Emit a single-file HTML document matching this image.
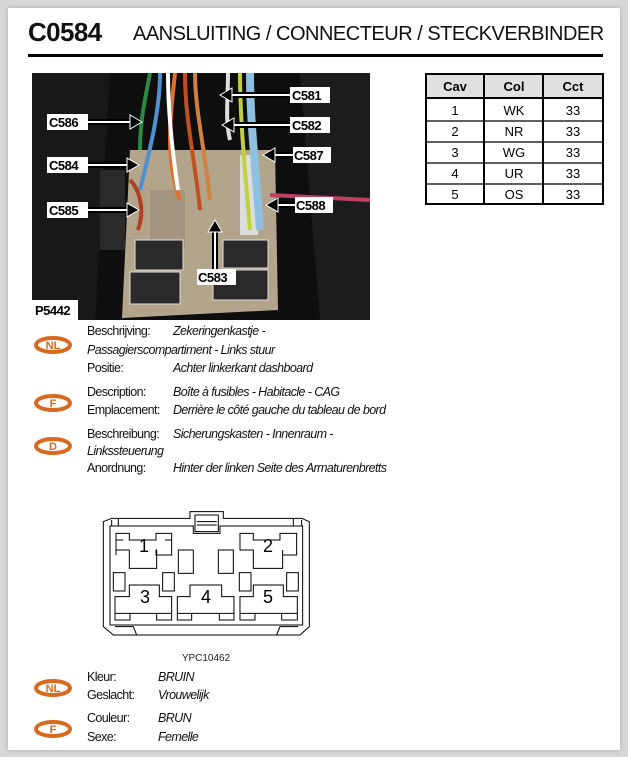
<!DOCTYPE html>
<html><head><meta charset="utf-8"><style>
body{margin:0;width:628px;height:757px;background:#d8d8d8;position:relative;overflow:hidden;font-family:"Liberation Sans",sans-serif}
.card{position:absolute;left:8px;top:8px;width:612px;height:742px;background:#fff;box-shadow:0 0 4px #aaa}
.a{position:absolute;white-space:nowrap;font-size:12.5px;color:#111;letter-spacing:-0.6px}
.i{font-style:italic}
</style></head><body>
<div class="card"></div>
<div class="a" style="left:28px;top:17px;font-size:26px;font-weight:bold;letter-spacing:-0.6px">C0584</div>
<div class="a" style="left:133px;top:23px;font-size:20px;letter-spacing:-0.5px">AANSLUITING / CONNECTEUR / STECKVERBINDER</div>
<div style="position:absolute;left:28px;top:54px;width:575px;height:3px;background:#000"></div>

<svg style="position:absolute;left:0;top:0" width="628" height="757">
<rect x="32" y="73" width="338" height="247" fill="#0e0e0e"/>
<path d="M32 73 L110 73 L95 320 L32 320Z" fill="#181818"/>
<path d="M300 73 L370 73 L370 320 L320 320Z" fill="#1c1c1c"/>
<rect x="100" y="170" width="25" height="80" fill="#2a2a2a"/>
<polygon points="130,150 275,150 278,310 122,318" fill="#b3a58c"/>
<rect x="150" y="190" width="35" height="60" fill="#a39580"/>
<rect x="135" y="240" width="48" height="30" fill="#2a2a2a" stroke="#ddd"/>
<rect x="130" y="272" width="50" height="32" fill="#2a2a2a" stroke="#ddd"/>
<rect x="223" y="240" width="45" height="28" fill="#2a2a2a" stroke="#ddd"/>
<rect x="213" y="270" width="55" height="30" fill="#2a2a2a" stroke="#ddd"/>
<rect x="240" y="155" width="18" height="80" fill="#ddd"/>
<g stroke-width="4" fill="none">
<path d="M175 73 C170 120 165 160 180 200" stroke="#e07030"/>
<path d="M185 73 C185 120 195 160 200 210" stroke="#c05020"/>
<path d="M195 73 C195 110 205 150 210 200" stroke="#d08040"/>
<path d="M168 73 C168 110 172 150 178 190" stroke="#ffffff"/>
<path d="M160 73 C160 110 150 150 140 190" stroke="#5090d0"/>
<path d="M250 73 C250 120 255 160 260 230" stroke="#8fc0e0" stroke-width="8"/>
<path d="M240 73 C240 120 245 170 250 230" stroke="#c0d040"/>
<path d="M228 73 C228 100 225 120 230 140" stroke="#e0e0e0"/>
<path d="M150 73 C145 100 140 120 140 150" stroke="#2a8a40"/>
<path d="M270 195 L370 200" stroke="#c04060"/>
<path d="M130 180 C140 190 145 210 138 230" stroke="#b04020"/>
</g>
<g font-family="Liberation Sans" font-weight="bold" font-size="13" letter-spacing="-0.5">
<g stroke="#000" stroke-width="6"><line x1="290" y1="95" x2="230" y2="95"/><line x1="290" y1="125" x2="232" y2="125"/><line x1="293" y1="155" x2="272" y2="155"/><line x1="295" y1="205" x2="275" y2="205"/><line x1="88" y1="122" x2="132" y2="122"/><line x1="88" y1="165" x2="129" y2="165"/><line x1="88" y1="210" x2="129" y2="210"/><line x1="215" y1="270" x2="215" y2="230"/></g>
<g stroke="#fff" stroke-width="2"><line x1="290" y1="95" x2="232" y2="95"/><line x1="290" y1="125" x2="234" y2="125"/><line x1="293" y1="155" x2="274" y2="155"/><line x1="295" y1="205" x2="277" y2="205"/><line x1="88" y1="122" x2="130" y2="122"/><line x1="88" y1="165" x2="127" y2="165"/><line x1="88" y1="210" x2="127" y2="210"/><line x1="215" y1="270" x2="215" y2="232"/></g>
<g fill="#000" stroke="#fff" stroke-width="1"><path d="M220 95 l12 -7 v14z"/><path d="M222 125 l12 -7 v14z"/><path d="M263 155 l12 -7 v14z"/><path d="M266 205 l12 -7 v14z"/><path d="M142 122 l-12 -7 v14z"/><path d="M139 165 l-12 -7 v14z"/><path d="M139 210 l-12 -7 v14z"/><path d="M215 220 l-7 12 h14z"/></g>
<g fill="#fff"><rect x="290" y="87" width="40" height="16"/><rect x="290" y="117" width="40" height="16"/><rect x="293" y="147" width="38" height="16"/><rect x="295" y="197" width="38" height="16"/><rect x="47" y="114" width="41" height="16"/><rect x="47" y="157" width="41" height="16"/><rect x="47" y="202" width="41" height="16"/><rect x="197" y="269" width="39" height="16"/><rect x="32" y="300" width="46" height="20"/></g>
<g fill="#000"><text x="292" y="100">C581</text><text x="292" y="130">C582</text><text x="294" y="160">C587</text><text x="296" y="210">C588</text><text x="49" y="127">C586</text><text x="49" y="170">C584</text><text x="49" y="215">C585</text><text x="198" y="282">C583</text><text x="35" y="315">P5442</text></g>
</g>
<g font-family="Liberation Sans" font-size="13" text-anchor="middle">
<rect x="426" y="74" width="177" height="24" fill="#e0e0e0"/>
<g stroke="#000" stroke-width="2" fill="none"><rect x="426" y="74" width="177" height="130"/><line x1="484" y1="74" x2="484" y2="204"/><line x1="543" y1="74" x2="543" y2="204"/><line x1="426" y1="98" x2="603" y2="98"/></g>
<g stroke="#000" stroke-width="1.2"><line x1="426" y1="121" x2="603" y2="121"/><line x1="426" y1="142" x2="603" y2="142"/><line x1="426" y1="163" x2="603" y2="163"/><line x1="426" y1="184" x2="603" y2="184"/></g>
<g font-weight="bold"><text x="455" y="91">Cav</text><text x="514" y="91">Col</text><text x="573" y="91">Cct</text></g>
<text x="455" y="115">1</text><text x="514" y="115">WK</text><text x="573" y="115">33</text>
<text x="455" y="136">2</text><text x="514" y="136">NR</text><text x="573" y="136">33</text>
<text x="455" y="157">3</text><text x="514" y="157">WG</text><text x="573" y="157">33</text>
<text x="455" y="178">4</text><text x="514" y="178">UR</text><text x="573" y="178">33</text>
<text x="455" y="199">5</text><text x="514" y="199">OS</text><text x="573" y="199">33</text>
</g>
<g font-family="Liberation Sans" font-size="11" font-weight="bold" fill="#d86a20" text-anchor="middle">
<g fill="none" stroke="#d86a20" stroke-width="4"><ellipse cx="53" cy="345" rx="17" ry="7"/><ellipse cx="53" cy="403" rx="17" ry="7"/><ellipse cx="53" cy="446" rx="17" ry="7"/><ellipse cx="53" cy="688" rx="17" ry="7"/><ellipse cx="53" cy="729" rx="17" ry="7"/></g>
<text x="53" y="349">NL</text><text x="53" y="407">F</text><text x="53" y="450">D</text><text x="53" y="692">NL</text><text x="53" y="733">F</text>
</g>
<g transform="translate(80,500) scale(0.3333)" fill="none" stroke="#000" stroke-width="3">
<path d="M70 65 L95 55 L330 55 L330 35 L430 35 L430 55 L665 55 L688 65 L688 380 L660 405 L100 405 L70 380Z"/>
<path d="M90 78 L340 78 L340 100 L420 100 L420 78 L668 78 L668 375 L90 375Z"/>
<path d="M95 60 L95 78 M665 60 L665 78 M115 55 L115 78 M640 55 L640 78"/>
<path d="M345 45 L415 45 L415 95 L345 95Z M350 65 L410 65 M350 75 L410 75"/>
<path d="M105 380 L160 380 L170 405 M655 380 L600 380 L590 405"/>
<path d="M108 100 L148 100 L148 120 L228 120 L228 100 L275 100 L275 165 L228 165 L228 150 L230 150 L230 205 L148 205 L148 150 L108 150 L108 165Z"/>
<path d="M108 100 L108 150 M275 120 L255 120 M108 120 L130 120"/>
<path d="M480 100 L520 100 L520 120 L600 120 L600 100 L650 100 L650 165 L608 165 L608 150 L608 205 L520 205 L520 150 L480 150Z"/>
<rect x="295" y="150" width="45" height="70"/><rect x="415" y="150" width="45" height="70"/>
<rect x="100" y="218" width="35" height="55"/><rect x="248" y="218" width="35" height="55"/><rect x="478" y="218" width="35" height="55"/><rect x="620" y="218" width="35" height="55"/>
<path d="M105 290 L148 290 L148 255 L238 255 L238 290 L275 290 L275 360 L230 360 L230 340 L150 340 L150 360 L105 360Z M105 340 L150 340 M230 340 L275 340"/>
<path d="M292 290 L330 290 L330 255 L425 255 L425 290 L462 290 L462 360 L418 360 L418 340 L335 340 L335 360 L292 360Z M292 340 L335 340 M418 340 L462 340"/>
<path d="M480 290 L520 290 L520 255 L610 255 L610 290 L652 290 L652 360 L605 360 L605 340 L525 340 L525 360 L480 360Z M480 340 L525 340 M605 340 L652 340"/>
</g>
<g font-family="Liberation Sans" font-size="18" fill="#000" text-anchor="middle">
<text x="144" y="552">1</text><text x="268" y="552">2</text><text x="145" y="603">3</text><text x="206" y="603">4</text><text x="268" y="603">5</text>
</g>
<text x="206" y="661" font-family="Liberation Sans" font-size="10" text-anchor="middle" fill="#222">YPC10462</text>
</svg>

<div class="a" style="left:87px;top:324px">Beschrijving:</div><div class="a i" style="left:173px;top:324px">Zekeringenkastje -</div>
<div class="a i" style="left:87px;top:343px">Passagierscompartiment - Links stuur</div>
<div class="a" style="left:87px;top:361px">Positie:</div><div class="a i" style="left:173px;top:361px">Achter linkerkant dashboard</div>
<div class="a" style="left:87px;top:385px">Description:</div><div class="a i" style="left:173px;top:385px">Boîte à fusibles - Habitacle - CAG</div>
<div class="a" style="left:87px;top:403px">Emplacement:</div><div class="a i" style="left:173px;top:403px">Derrière le côté gauche du tableau de bord</div>
<div class="a" style="left:87px;top:427px">Beschreibung:</div><div class="a i" style="left:173px;top:427px">Sicherungskasten - Innenraum -</div>
<div class="a i" style="left:87px;top:444px">Linkssteuerung</div>
<div class="a" style="left:87px;top:461px">Anordnung:</div><div class="a i" style="left:173px;top:461px">Hinter der linken Seite des Armaturenbretts</div>
<div class="a" style="left:87px;top:670px">Kleur:</div><div class="a i" style="left:158px;top:670px">BRUIN</div>
<div class="a" style="left:87px;top:688px">Geslacht:</div><div class="a i" style="left:158px;top:688px">Vrouwelijk</div>
<div class="a" style="left:87px;top:711px">Couleur:</div><div class="a i" style="left:158px;top:711px">BRUN</div>
<div class="a" style="left:87px;top:730px">Sexe:</div><div class="a i" style="left:158px;top:730px">Femelle</div>
</body></html>
